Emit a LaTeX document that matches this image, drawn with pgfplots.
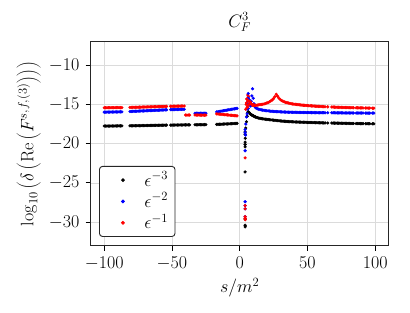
\RequirePackage{fix-cm}
\documentclass[border=0pt]{standalone}
\usepackage{pgfplots}
\usepackage{pgfplotstable}
\pgfplotsset{compat=1.18}
\pgfplotstableread{
x k b r
-100 -17.75 -15.98 -15.42
-99 -17.75 -15.98 -15.42
-98 -17.75 -15.97 -15.42
-97 -17.75 -15.97 -15.41
-96 -17.75 -15.97 -15.41
-95 -17.74 -15.96 -15.41
-94 -17.74 -15.96 -15.41
-93 -17.74 -15.96 -15.41
-92 -17.74 -15.95 -15.40
-91 -17.74 -15.95 -15.40
-90 -17.73 -15.95 -15.40
-89 -17.73 -15.94 -15.40
-88 -17.73 -15.94 -15.40
-87 -17.73 -15.94 -15.40
-81 -17.72 -15.90 -15.38
-80 -17.72 -15.89 -15.37
-79 -17.72 -15.88 -15.37
-78 -17.71 -15.87 -15.36
-77 -17.71 -15.86 -15.36
-76 -17.71 -15.86 -15.35
-75 -17.70 -15.85 -15.35
-74 -17.70 -15.84 -15.34
-73 -17.70 -15.83 -15.34
-72 -17.69 -15.82 -15.33
-71 -17.69 -15.82 -15.33
-70 -17.69 -15.81 -15.32
-69 -17.68 -15.80 -15.32
-68 -17.68 -15.79 -15.31
-67 -17.68 -15.78 -15.31
-66 -17.67 -15.78 -15.30
-65 -17.67 -15.77 -15.30
-64 -17.67 -15.76 -15.29
-63 -17.66 -15.75 -15.29
-62 -17.66 -15.74 -15.28
-61 -17.66 -15.74 -15.28
-60 -17.65 -15.73 -15.27
-59 -17.65 -15.72 -15.27
-58 -17.65 -15.71 -15.26
-57 -17.64 -15.70 -15.26
-56 -17.64 -15.70 -15.25
-55 -17.64 -15.69 -15.25
-54 -17.63 -15.68 -15.24
-51 -17.63 -15.66 -15.23
-50 -17.63 -15.66 -15.23
-49 -17.62 -15.65 -15.22
-48 -17.62 -15.65 -15.22
-47 -17.62 -15.64 -15.22
-46 -17.62 -15.64 -15.21
-45 -17.61 -15.63 -15.21
-44 -17.61 -15.63 -15.21
-43 -17.61 -15.62 -15.20
-42 -17.61 -15.62 -15.20
-41 -17.60 -15.62 -15.20
-40 -17.60 nan -16.35
-39 -17.60 nan -16.35
-38 -17.60 nan -16.35
-37 -17.60 nan -16.35
-33 -17.59 -16.12 -16.35
-32 -17.59 -16.12 -16.35
-31 -17.59 -16.12 -16.35
-30 -17.58 -16.12 -16.35
-29 -17.58 -16.12 -16.36
-28 -17.58 -16.12 -16.36
-27 -17.58 -16.12 -16.36
-26 -17.57 -16.12 -16.36
-25 -17.57 -16.12 -16.36
-17 -17.54 -15.95 -16.20
-16 -17.53 -15.92 -16.22
-15 -17.52 -15.89 -16.23
-14 -17.52 -15.86 -16.25
-13 -17.51 -15.83 -16.27
-12 -17.50 -15.80 -16.28
-11 -17.49 -15.77 -16.30
-10 -17.48 -15.74 -16.32
-9 -17.48 -15.71 -16.33
-8 -17.47 -15.68 -16.35
-7 -17.46 -15.65 -16.37
-6 -17.45 -15.62 -16.38
-5 -17.44 -15.59 -16.40
-4 -17.43 -15.56 -16.42
-3 -17.42 -15.53 -16.43
-2 -17.41 -15.50 -16.45
4.5 -18.00 -17.50 -15.60
5 -17.20 -16.60 -14.80
5.5 -16.50 -15.60 -14.30
6 -16.00 -14.60 -13.80
6.5 -15.95 -14.00 -14.00
7 -16.05 -14.40 -14.60
7.5 -16.15 -15.00 -14.90
8 -16.25 -15.20 -14.70
8.5 -16.30 -14.60 -14.90
9 -16.35 -13.90 -15.00
9.5 -16.40 -13.00 -15.10
10 -16.45 -14.20 -15.05
10.5 -16.50 -14.90 -15.10
11 -16.55 -15.20 -15.10
11.5 -16.58 -15.35 -15.10
12 -16.62 -15.45 -15.10
13 -16.68 -15.55 -15.08
14 -16.73 -15.60 -15.05
15 -16.77 -15.65 -15.02
16 -16.80 -15.69 -15.00
17 -16.83 -15.72 -14.97
18 -16.86 -15.75 -14.93
19 -16.88 -15.78 -14.88
20 -16.90 -15.80 -14.82
21 -16.92 -15.82 -14.75
22 -16.94 -15.84 -14.66
23 -16.96 -15.86 -14.55
24 -16.98 -15.87 -14.42
25 -17.00 -15.89 -14.25
26 -17.02 -15.90 -14.00
27 -17.04 -15.91 -13.70
28 -17.06 -15.92 -13.95
29 -17.08 -15.93 -14.20
30 -17.10 -15.94 -14.38
31 -17.11 -15.95 -14.50
32 -17.13 -15.96 -14.60
33 -17.14 -15.96 -14.67
34 -17.16 -15.97 -14.73
35 -17.17 -15.98 -14.78
36 -17.18 -15.98 -14.82
37 -17.19 -15.99 -14.86
38 -17.20 -15.99 -14.90
39 -17.21 -16.00 -14.93
40 -17.22 -16.00 -14.96
41 -17.23 -16.00 -14.98
42 -17.23 -16.01 -15.00
43 -17.24 -16.01 -15.02
44 -17.25 -16.01 -15.04
45 -17.25 -16.02 -15.06
46 -17.26 -16.02 -15.08
47 -17.27 -16.02 -15.10
48 -17.27 -16.02 -15.11
49 -17.28 -16.03 -15.13
50 -17.29 -16.03 -15.14
51 -17.29 -16.03 -15.16
52 -17.30 -16.03 -15.17
53 -17.30 -16.04 -15.18
54 -17.31 -16.04 -15.19
55 -17.31 -16.04 -15.21
56 -17.32 -16.04 -15.22
57 -17.32 -16.04 -15.23
58 -17.33 -16.05 -15.24
59 -17.33 -16.05 -15.25
60 -17.34 -16.05 -15.26
61 -17.34 -16.05 -15.27
62 -17.35 -16.05 -15.28
63 -17.35 -16.06 -15.29
65 -17.36 -16.06 -15.30
68 -17.37 -16.06 -15.32
69 -17.37 -16.06 -15.33
70 -17.38 -16.06 -15.34
71 -17.38 -16.07 -15.35
72 -17.38 -16.07 -15.35
73 -17.39 -16.07 -15.36
74 -17.39 -16.07 -15.37
75 -17.39 -16.07 -15.37
76 -17.40 -16.07 -15.38
77 -17.40 -16.08 -15.38
78 -17.40 -16.08 -15.39
79 -17.41 -16.08 -15.39
80 -17.41 -16.08 -15.40
81 -17.41 -16.08 -15.40
82 -17.42 -16.08 -15.41
83 -17.42 -16.08 -15.41
84 -17.42 -16.09 -15.42
86 -17.43 -16.09 -15.42
87 -17.43 -16.09 -15.43
88 -17.43 -16.09 -15.43
89 -17.44 -16.09 -15.44
90 -17.44 -16.09 -15.44
91 -17.44 -16.09 -15.44
93 -17.45 -16.10 -15.45
94 -17.45 -16.10 -15.45
95 -17.45 -16.10 -15.46
96 -17.45 -16.10 -15.46
98 -17.46 -16.10 -15.47
99 -17.46 -16.10 -15.47
}\main
\newcommand{\chartfont}{\fontsize{18}{21}\selectfont}
\begin{document}
\chartfont
\begin{tikzpicture}[font=\chartfont]
\begin{axis}[
  scale only axis, width=298pt, height=204pt,
  xmin=-110, xmax=110, ymin=-33, ymax=-7,
  xtick={-100,-50,0,50,100}, ytick={-30,-25,-20,-15,-10},
  tick pos=left, tick align=outside, major tick length=5pt,
  tick style={line width=0.9pt, black},
  grid=major, grid style={black!14, line width=0.6pt},
  axis line style={line width=0.9pt, black!85},
  title={$C_F^3$},
  title style={font=\chartfont, yshift=-2pt},
  xlabel={$s/m^2$},
  ylabel={$\log_{10}\left(\delta\left(\mathrm{Re}\left(F^{s,f,(3)}\right)\right)\right)$},
  label style={font=\chartfont},
  xlabel style={yshift=4pt},
  ylabel style={yshift=-4pt},
  ticklabel style={font=\chartfont},
  unbounded coords=discard,
  legend cell align=left,
  legend style={at={(0.028,0.043)}, anchor=south west, draw=black!85,
    line width=0.9pt, rounded corners=3pt, inner xsep=5pt, inner ysep=3pt,
    row sep=0pt, font=\chartfont},
  legend image code/.code={\path (0pt,0pt) (37pt,0pt); \draw[#1] plot coordinates {(18pt,0pt)};},
  every axis plot/.append style={only marks, mark=*, mark size=1.4pt},
]
\addplot[black, mark options={draw=black, fill=black}] table[x=x, y=k] {\main};
\addlegendentry{$\epsilon^{-3}$}
\addplot[blue, mark options={draw=blue, fill=blue}] table[x=x, y=b] {\main};
\addlegendentry{$\epsilon^{-2}$}
\addplot[red, mark options={draw=red, fill=red}] table[x=x, y=r] {\main};
\addlegendentry{$\epsilon^{-1}$}
\addplot[black, forget plot, mark options={draw=black, fill=black}] coordinates {
(4,-18.5) (4,-18.8) (4.1,-19.3) (4,-19.8) (4,-20.1) (4,-20.4) (4,-23.6) (4,-29.6) (4,-30.4) (4.05,-30.6)};
\addplot[blue, forget plot, mark options={draw=blue, fill=blue}] coordinates {
(4,-18.2) (4,-18.6) (4.3,-18.9) (4,-20.9) (4,-27.4) (4,-27.9) (4,-28.3) (4,-29.3)
(6.3,-13.6) (6.3,-14.2) (6.3,-15.0) (6.3,-15.5) (5.5,-16.2)};
\addplot[red, forget plot, mark options={draw=red, fill=red}] coordinates {
(4,-21.8) (4,-27.9) (4,-28.3) (4,-29.3) (4,-29.5) (4.1,-29.7)
(5.2,-14.3) (5.8,-15.3) (6.2,-14.5) (6.8,-15.0) (5.5,-15.4) (4.8,-15.0)};
\end{axis}
\pgfresetboundingbox
\path ([xshift=-90.7pt,yshift=-67.3pt]current axis.south west) rectangle ++(410pt,313pt);
\end{tikzpicture}
\end{document}
